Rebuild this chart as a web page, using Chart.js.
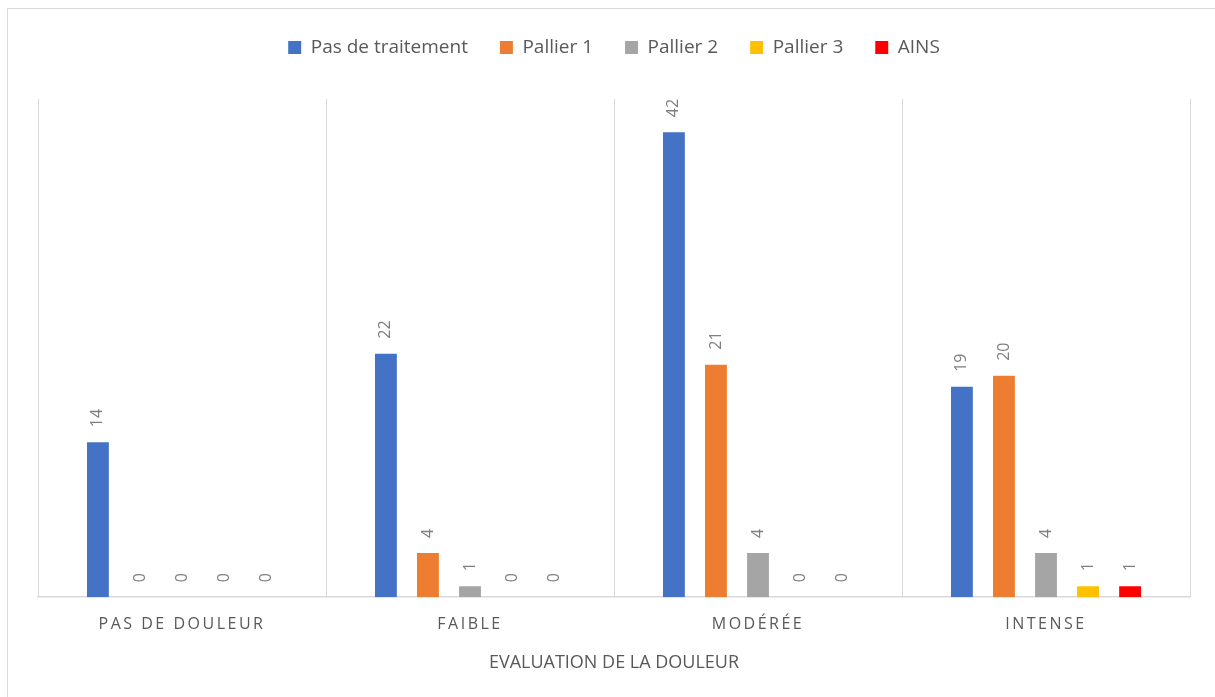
<!DOCTYPE html>
<html>
<head>
<meta charset="utf-8">
<script src="https://cdn.jsdelivr.net/npm/chart.js@4/dist/chart.umd.min.js"></script>
<style>
  html, body { margin:0; padding:0; background:#fff; overflow:hidden; }
  #wrap { position:relative; width:1215px; height:697px; }
  #frame { position:absolute; left:7px; top:8px; width:1230px; height:720px; border:1.5px solid #d9d9d9; box-sizing:border-box; pointer-events:none; }
</style>
</head>
<body>
<div id="wrap">
  <canvas id="c" width="1215" height="697"></canvas>
  <div id="frame"></div>
</div>
<script>
const categories = ["PAS DE DOULEUR", "FAIBLE", "MODÉRÉE", "INTENSE"];
const seriesNames = ["Pas de traitement", "Pallier 1", "Pallier 2", "Pallier 3", "AINS"];
const pasDeTraitement = [14, 22, 42, 19];
const pallier1 = [0, 4, 21, 20];
const pallier2 = [0, 1, 4, 4];
const pallier3 = [0, 0, 0, 1];
const ains = [0, 0, 0, 1];
const colors = ["#4472C4", "#ED7D31", "#A5A5A5", "#FFC000", "#FF0000"];
const axisTitle = "EVALUATION DE LA DOULEUR";

const seriesValues = [pasDeTraitement, pallier1, pallier2, pallier3, ains];

const FONT = "'Open Sans', 'Liberation Sans', sans-serif";

const dataLabels = {
  id: 'dataLabels',
  afterDatasetsDraw(chart) {
    const ctx = chart.ctx;
    ctx.save();
    ctx.fillStyle = '#7f7f7f';
    ctx.font = "16px " + FONT;
    ctx.textAlign = 'left';
    ctx.textBaseline = 'middle';
    chart.data.datasets.forEach((ds, i) => {
      const meta = chart.getDatasetMeta(i);
      meta.data.forEach((bar, j) => {
        const v = ds.data[j];
        ctx.save();
        ctx.translate(bar.x, bar.y - 15);
        ctx.rotate(-Math.PI / 2);
        ctx.fillText(String(v), 0, 0);
        ctx.restore();
      });
    });
    ctx.restore();
  }
};

const spacing = {
  id: 'spacing',
  afterInit(chart) {
    const lg = chart.legend;
    const fit = lg.fit;
    lg.fit = function () { fit.call(lg); this.height += 32; };
  },
  afterUpdate(chart) {
    const s = chart.scales.x;
    if (s && !s._lsWrapped) {
      const orig = s.drawLabels;
      s.drawLabels = function (area) {
        const ctx = this.ctx;
        ctx.save();
        ctx.letterSpacing = '2.5px';
        orig.call(this, area);
        ctx.restore();
      };
      s._lsWrapped = true;
    }
  }
};

new Chart(document.getElementById('c'), {
  type: 'bar',
  data: {
    labels: categories,
    datasets: seriesNames.map((n, i) => ({
      label: n,
      data: seriesValues[i],
      backgroundColor: colors[i],
      borderWidth: 0,
      categoryPercentage: 0.73,
      barPercentage: 0.52
    }))
  },
  options: {
    responsive: false,
    animation: false,
    devicePixelRatio: 1,
    layout: { padding: { left: 38, right: 25, top: 6, bottom: 19 } },
    plugins: {
      legend: {
        position: 'top',
        labels: {
          boxWidth: 13,
          boxHeight: 13,
          padding: 32,
          color: '#595959',
          font: { family: FONT, size: 19 }
        }
      },
      tooltip: { enabled: false }
    },
    scales: {
      x: {
        grid: { offset: true, color: '#d9d9d9', lineWidth: 1, drawTicks: false },
        border: { color: '#d9d9d9', width: 1.5 },
        ticks: { color: '#595959', font: { family: FONT, size: 16 }, padding: 18 },
        title: { display: true, text: axisTitle, color: '#595959', font: { family: FONT, size: 18 }, padding: { top: 0 } }
      },
      y: {
        display: false,
        min: 0,
        max: 45
      }
    }
  },
  plugins: [dataLabels, spacing]
});
</script>
</body>
</html>
